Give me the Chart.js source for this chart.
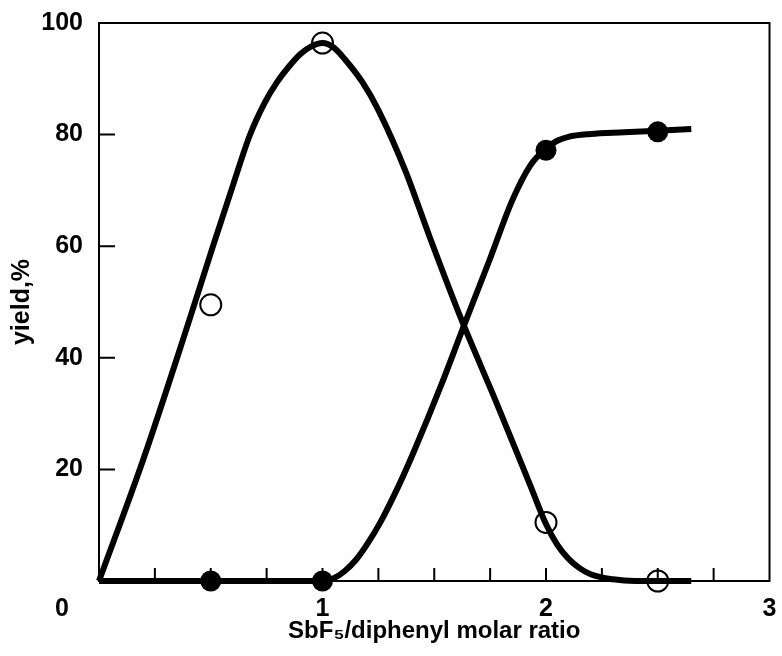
<!DOCTYPE html>
<html><head><meta charset="utf-8">
<script src="https://cdn.jsdelivr.net/npm/chart.js@4.4.0/dist/chart.umd.min.js"></script>
<style>html,body{margin:0;padding:0;background:#fff;} #wrap{width:782px;height:656px;}</style>
</head><body><div id="wrap"><canvas id="c" width="782" height="656"></canvas></div>
<script>
const xTickValues = [0, 1, 2, 3];
const yTickValues = [20, 40, 60, 80, 100];
const xTitle = 'SbF\u2085/diphenyl molar ratio';
const yTitle = 'yield,%';

// measured points
const openX = [0.5, 1.0, 2.0, 2.5];
const openY = [49.5, 96.4, 10.5, 0];
const filledX = [0.5, 1.0, 2.0, 2.5];
const filledY = [0, 0, 77.2, 80.5];

// fitted curves
const curveAX = [0, 0.2, 0.39, 0.51, 0.6, 0.674, 0.74, 0.795, 0.85, 0.9, 0.95, 1.0, 1.05, 1.1, 1.18, 1.25, 1.37, 1.48, 1.62, 1.78, 1.93, 2.0, 2.05, 2.1, 2.15, 2.2, 2.3, 2.4, 2.65];
const curveAY = [0, 22, 45, 60, 71, 79.8, 85.6, 89.3, 92.2, 94.4, 95.8, 96.4, 95.6, 93.5, 89.3, 84.4, 73.6, 61.6, 47, 31.8, 17.1, 10.2, 6.5, 4, 2.3, 1.2, 0.3, 0, 0];
const curveBX = [0, 1.0, 1.05, 1.1, 1.15, 1.2, 1.26, 1.34, 1.41, 1.53, 1.635, 1.75, 1.85, 1.93, 2.0, 2.05, 2.1, 2.2, 2.35, 2.5, 2.65];
const curveBY = [0, 0, 0.5, 1.8, 3.8, 6.6, 10.6, 17, 23.3, 35, 46, 57.8, 68.3, 74.5, 77.5, 78.9, 79.6, 80.1, 80.4, 80.7, 81];

const zip = (xs, ys) => xs.map((x, i) => ({x: x, y: ys[i]}));
const FONT = '"Liberation Sans", Arial, Helvetica, sans-serif';

const framePlugin = {
  id: 'frame',
  beforeDraw(chart) {
    const ctx = chart.ctx;
    ctx.save(); ctx.fillStyle = '#fff'; ctx.fillRect(0, 0, chart.width, chart.height); ctx.restore();
  },
  beforeDatasetsDraw(chart) {
    const {ctx, chartArea: a, scales: {x, y}} = chart;
    ctx.save();
    ctx.strokeStyle = '#000';
    ctx.lineWidth = 2;
    ctx.strokeRect(a.left, a.top, a.right - a.left, a.bottom - a.top);
    ctx.beginPath();
    x.ticks.forEach(t => {
      if (t.value <= x.min || t.value >= x.max) return;
      const px = x.getPixelForValue(t.value);
      ctx.moveTo(px, a.bottom); ctx.lineTo(px, a.bottom - 13);
    });
    y.ticks.forEach(t => {
      if (t.value <= y.min || t.value >= y.max) return;
      const py = y.getPixelForValue(t.value);
      ctx.moveTo(a.left, py); ctx.lineTo(a.left + 16, py);
    });
    ctx.stroke();
    ctx.fillStyle = '#000';
    ctx.font = 'bold 25px ' + FONT;
    ctx.textAlign = 'center';
    ctx.textBaseline = 'middle';
    ctx.fillText(String(xTickValues[0]), x.getPixelForValue(0) - 37, a.bottom + 28);
    ctx.restore();
  }
};

new Chart(document.getElementById('c'), {
  type: 'scatter',
  data: {
    datasets: [
      {label: 'open', data: zip(openX, openY), pointStyle: 'circle', pointRadius: 10.5, borderWidth: 2,
       borderColor: '#000', backgroundColor: 'rgba(0,0,0,0)', showLine: false, clip: false},
      {label: 'filled', data: zip(filledX, filledY), pointStyle: 'circle', pointRadius: 10.5, borderWidth: 0,
       borderColor: '#000', backgroundColor: '#000', showLine: false, clip: false},
      {label: 'curveA', data: zip(curveAX, curveAY), showLine: true, pointRadius: 0, borderColor: '#000',
       borderWidth: 6, cubicInterpolationMode: 'monotone', fill: false, clip: false},
      {label: 'curveB', data: zip(curveBX, curveBY), showLine: true, pointRadius: 0, borderColor: '#000',
       borderWidth: 6, cubicInterpolationMode: 'monotone', fill: false, clip: false}
    ]
  },
  options: {
    responsive: false,
    animation: false,
    events: [],
    layout: {padding: {left: 0, top: 23, right: 11, bottom: 0}},
    plugins: {legend: {display: false}, tooltip: {enabled: false}},
    scales: {
      x: {
        type: 'linear', min: 0, max: 3,
        grid: {display: false, drawTicks: false},
        border: {display: false},
        ticks: {stepSize: 0.25, autoSkip: false, maxRotation: 0, padding: 13, color: '#000',
          font: {family: FONT, size: 25, weight: 'bold'},
          callback: v => (xTickValues.includes(v) && v !== 0) ? String(v) : ''},
        title: {display: true, text: xTitle, color: '#000', font: {family: FONT, size: 24, weight: 'bold'},
          padding: {top: 0, bottom: 10}},
        afterFit: s => { s.height = 75; s.paddingLeft = 0; s.paddingRight = 0; }
      },
      y: {
        type: 'linear', min: 0, max: 100,
        grid: {display: false, drawTicks: false},
        border: {display: false},
        ticks: {stepSize: 20, padding: 16, color: '#000',
          font: {family: FONT, size: 25, weight: 'bold'},
          callback: v => yTickValues.includes(v) ? String(v) : ''},
        title: {display: true, text: yTitle, color: '#000', font: {family: FONT, size: 25, weight: 'bold'},
          padding: {top: 7, bottom: 0}},
        afterFit: s => { s.width = 99; s.paddingTop = 0; s.paddingBottom = 0; }
      }
    }
  },
  plugins: [framePlugin]
});
</script>
</body></html>
